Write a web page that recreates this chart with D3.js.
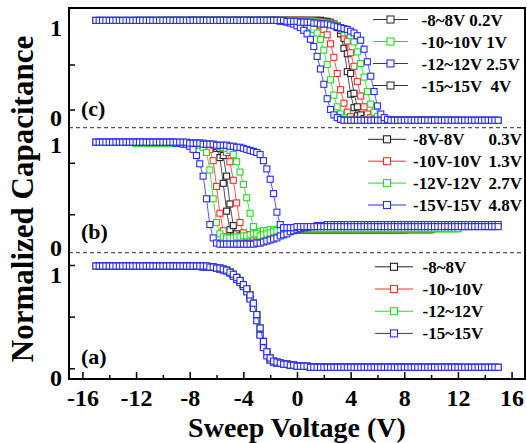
<!DOCTYPE html>
<html>
<head>
<meta charset="utf-8">
<script src="https://cdn.jsdelivr.net/npm/d3@7"></script>
<style>
  html, body { margin: 0; padding: 0; background: #fff; }
  svg { display: block; }
</style>
</head>
<body>
<div id="chart"></div>
<script>
// sweep ranges (V) of the four loops, black / red / green / blue
const sweepMax = [8, 10, 12, 15];
const sweepStep = 0.25;
const seriesColors = ["#222222", "#ff2a2a", "#22dd22", "#2a2aff"];

const xTicks = [-16, -12, -8, -4, 0, 4, 8, 12, 16];
const xMinorTicks = [-14, -10, -6, -2, 2, 6, 10, 14];

// normalized capacitance x100, one value per 0.25 V step from -Vmax to +Vmax
// panel (c)
const cBlackL = [
  99,99,99,99, 99,99,99,99, 99,99,99,99, 99,99,99,99,
  99,99,99,99, 99,99,99,99, 99,99,99,99, 99,99,99,99,
  99,99,99,99, 99,99,99,99, 98,97,96,94, 91,84,68,42,
  17,2,-7,-11, -12,-12,-12,-12, -12,-12,-12,-12, -12,-12,-12,-12,
  -12];
const cBlackR = [
  99,99,99,99, 99,99,99,99, 99,99,99,99, 99,99,99,99,
  99,99,99,99, 99,99,99,99, 99,99,99,99, 99,99,99,99,
  99,99,99,99, 99,99,99,99, 98,98,97,95, 93,88,79,62,
  40,18,3,-6, -10,-12,-12,-12, -12,-12,-12,-12, -12,-12,-12,-12,
  -12];
const cRedL = [
  99,99,99,99, 99,99,99,99, 99,99,99,99, 99,99,99,99,
  99,99,99,99, 99,99,99,99, 99,99,99,99, 99,99,99,99,
  99,99,99,99, 99,99,99,99, 99,99,98,98, 97,96,95,93,
  89,83,73,58, 40,22,7,-3, -8,-11,-12,-12, -12,-12,-12,-12,
  -12,-12,-12,-12, -12,-12,-12,-12, -12,-12,-12,-12, -12,-12,-12,-12,
  -12];
const cRedR = [
  99,99,99,99, 99,99,99,99, 99,99,99,99, 99,99,99,99,
  99,99,99,99, 99,99,99,99, 99,99,99,99, 99,99,99,99,
  99,99,99,99, 99,99,99,99, 99,99,99,99, 99,98,98,97,
  97,96,96,95, 93,90,85,76, 63,48,31,15, 3,-5,-9,-11,
  -12,-12,-12,-12, -12,-12,-12,-12, -12,-12,-12,-12, -12,-12,-12,-12,
  -12];
const cGreenL = [
  99,99,99,99, 99,99,99,99, 99,99,99,99, 99,99,99,99,
  99,99,99,99, 99,99,99,99, 99,99,99,99, 99,99,99,99,
  99,99,99,99, 99,99,99,99, 99,99,99,99, 99,98,98,98,
  97,96,95,94, 92,89,85,78, 66,50,33,16, 3,-5,-9,-11,
  -12,-12,-12,-12, -12,-12,-12,-12, -12,-12,-12,-12, -12,-12,-12,-12,
  -12,-12,-12,-12, -12,-12,-12,-12, -12,-12,-12,-12, -12,-12,-12,-12,
  -12];
const cGreenR = [
  99,99,99,99, 99,99,99,99, 99,99,99,99, 99,99,99,99,
  99,99,99,99, 99,99,99,99, 99,99,99,99, 99,99,99,99,
  99,99,99,99, 99,99,99,99, 99,99,99,99, 99,99,99,99,
  99,98,98,98, 98,98,97,97, 96,96,95,94, 93,91,89,86,
  82,75,64,51, 36,20,6,-3, -8,-11,-12,-12, -12,-12,-12,-12,
  -12,-12,-12,-12, -12,-12,-12,-12, -12,-12,-12,-12, -12,-12,-12,-12,
  -12];
const cBlueL = [
  99,99,99,99, 99,99,99,99, 99,99,99,99, 99,99,99,99,
  99,99,99,99, 99,99,99,99, 99,99,99,99, 99,99,99,99,
  99,99,99,99, 99,99,99,99, 99,99,99,99, 99,99,99,99,
  99,99,99,99, 99,99,99,98, 98,97,96,95, 93,91,88,84,
  78,70,59,45, 28,12,0,-6, -9,-11,-12,-12, -12,-12,-12,-12,
  -12,-12,-12,-12, -12,-12,-12,-12, -12,-12,-12,-12, -12,-12,-12,-12,
  -12,-12,-12,-12, -12,-12,-12,-12, -12,-12,-12,-12, -12,-12,-12,-12,
  -12,-12,-12,-12, -12,-12,-12,-12,
  -12];
const cBlueR = [
  99,99,99,99, 99,99,99,99, 99,99,99,99, 99,99,99,99,
  99,99,99,99, 99,99,99,99, 99,99,99,99, 99,99,99,99,
  99,99,99,99, 99,99,99,99, 99,99,99,99, 99,99,99,99,
  99,99,99,99, 99,99,99,99, 99,98,98,98, 98,97,97,97,
  97,96,96,95, 95,95,94,93, 92,91,90,89, 87,85,82,77,
  67,53,37,20, 4,-5,-9,-11, -12,-12,-12,-12, -12,-12,-12,-12,
  -12,-12,-12,-12, -12,-12,-12,-12, -12,-12,-12,-12, -12,-12,-12,-12,
  -12,-12,-12,-12, -12,-12,-12,-12,
  -12];

// panel (b)
const bBlackL = [
  94,94,93,93, 93,93,92,91, 89,80,55,28, 10,4,3,3,
  3,3,4,4, 5,5,6,6, 7,8,9,9, 10,10,10,10,
  10,10,10,10, 10,10,10,10, 10,10,10,10, 10,10,10,10,
  10,10,10,10, 10,10,10,10, 10,10,10,10, 10,10,10,10,
  10];
const bBlackR = [
  94,94,94,93, 93,93,92,92, 91,89,82,62, 35,14,6,4,
  4,4,5,5, 6,6,7,7, 8,9,9,10, 10,10,10,10,
  10,10,10,10, 10,10,10,10, 10,10,10,10, 10,10,10,10,
  10,10,10,10, 10,10,10,10, 10,10,10,10, 10,10,10,10,
  10];
const bRedL = [
  94,94,94,94, 94,94,94,94, 94,94,93,93, 92,91,88,77,
  52,26,9,3, 2,2,2,2, 3,3,4,4, 5,5,6,6,
  7,8,9,9, 10,10,10,10, 10,10,10,10, 10,10,10,10,
  10,10,10,10, 10,10,10,10, 10,10,10,10, 10,10,10,10,
  10,10,10,10, 10,10,10,10, 10,10,10,10, 10,10,10,10,
  10];
const bRedR = [
  94,94,94,94, 94,94,94,94, 94,94,94,94, 94,93,93,92,
  92,91,89,85, 76,58,36,17, 7,3,3,3, 4,5,6,6,
  7,8,9,9, 10,10,10,10, 10,10,10,10, 10,10,10,10,
  10,10,10,10, 10,10,10,10, 10,10,10,10, 10,10,10,10,
  10,10,10,10, 10,10,10,10, 10,10,10,10, 10,10,10,10,
  10];
const bGreenL = [
  94,94,94,94, 94,94,94,94, 94,94,94,94, 94,94,94,94,
  94,94,93,92, 90,85,68,40, 17,6,3,2, 2,2,3,3,
  4,4,5,6, 7,8,9,9, 10,10,10,10, 11,11,11,11,
  11,11,11,11, 11,11,11,11, 11,11,11,11, 11,11,11,11,
  11,11,11,11, 11,11,11,11, 11,11,11,11, 11,11,11,11,
  11,11,11,11, 11,11,11,11, 11,11,11,11, 11,11,11,11,
  11];
const bGreenR = [
  94,94,94,94, 94,94,94,94, 94,94,94,94, 94,94,94,94,
  94,94,94,94, 94,93,93,93, 92,91,90,89, 87,83,76,66,
  54,41,26,13, 6,4,5,6, 7,8,9,9, 10,10,11,11,
  11,11,11,11, 11,11,11,11, 11,11,11,11, 11,11,11,11,
  11,11,11,11, 11,11,11,11, 11,11,11,11, 11,11,11,11,
  11,11,11,11, 11,11,11,11, 11,11,11,11, 11,11,11,11,
  11];
const bBlueL = [
  95,95,95,95, 95,95,95,95, 95,95,95,95, 95,95,95,95,
  95,95,95,95, 95,95,95,95, 94,94,93,93, 91,88,82,74,
  62,40,15,2, -3,-4,-4,-4, -4,-4,-4,-4, -4,-4,-4,-4,
  -3,-3,-2,-1, 0,1,2,4, 5,6,8,9, 10,11,12,12,
  13,13,14,14, 14,15,15,15, 15,15,15,15, 15,15,15,15,
  15,15,15,15, 15,15,15,15, 15,15,15,15, 15,15,15,15,
  15,15,15,15, 15,15,15,15, 15,15,15,15, 15,15,15,15,
  15,15,15,15, 15,15,15,15,
  15];
const bBlueR = [
  95,95,95,95, 95,95,95,95, 95,95,95,95, 95,95,95,95,
  95,95,95,95, 95,95,95,95, 95,95,95,95, 94,94,94,94,
  93,93,93,93, 92,92,92,92, 91,91,90,90, 89,88,87,86,
  85,83,77,69, 59,45,27,15, 12,12,12,12, 13,13,13,13,
  13,13,13,13, 13,13,13,13, 13,13,13,13, 13,13,13,13,
  13,13,13,13, 13,13,13,13, 13,13,13,13, 13,13,13,13,
  13,13,13,13, 13,13,13,13, 13,13,13,13, 13,13,13,13,
  13,13,13,13, 13,13,13,13,
  13];

// panel (a)
const aBlackL = [
  99,99,99,99, 98,98,98,98, 97,96,96,95, 93,90,87,84,
  80,75,68,59, 47,33,21,13, 8,6,5,5, 4,4,3,3,
  2,2,2,2, 1,1,1,1, 1,1,1,1, 1,1,1,1,
  1,1,1,1, 1,1,1,1, 1,1,1,1, 1,1,1,1,
  1];
const aBlackR = [
  99,99,99,99, 99,99,98,98, 97,97,96,95, 93,91,88,85,
  81,77,71,63, 52,39,26,16, 10,7,6,5, 4,4,3,3,
  2,2,2,2, 1,1,1,1, 1,1,1,1, 1,1,1,1,
  1,1,1,1, 1,1,1,1, 1,1,1,1, 1,1,1,1,
  1];
const aRedL = [
  99,99,99,99, 99,99,99,99, 99,99,99,99, 98,98,98,98,
  97,96,96,95, 93,90,87,84, 80,75,68,59, 47,33,21,13,
  8,6,5,5, 4,4,3,3, 2,2,2,2, 1,1,1,1,
  1,1,1,1, 1,1,1,1, 1,1,1,1, 1,1,1,1,
  1,1,1,1, 1,1,1,1, 1,1,1,1, 1,1,1,1,
  1];
const aRedR = [
  99,99,99,99, 99,99,99,99, 99,99,99,99, 99,99,98,98,
  97,97,96,95, 93,91,88,85, 81,77,71,63, 52,39,26,16,
  10,7,6,5, 4,4,3,3, 2,2,2,2, 1,1,1,1,
  1,1,1,1, 1,1,1,1, 1,1,1,1, 1,1,1,1,
  1,1,1,1, 1,1,1,1, 1,1,1,1, 1,1,1,1,
  1];
const aGreenL = [
  99,99,99,99, 99,99,99,99, 99,99,99,99, 99,99,99,99,
  99,99,99,99, 98,98,98,98, 97,96,96,95, 93,90,87,84,
  80,75,68,59, 47,33,21,13, 8,6,5,5, 4,4,3,3,
  2,2,2,2, 1,1,1,1, 1,1,1,1, 1,1,1,1,
  1,1,1,1, 1,1,1,1, 1,1,1,1, 1,1,1,1,
  1,1,1,1, 1,1,1,1, 1,1,1,1, 1,1,1,1,
  1];
const aGreenR = [
  99,99,99,99, 99,99,99,99, 99,99,99,99, 99,99,99,99,
  99,99,99,99, 99,99,98,98, 97,97,96,95, 93,91,88,85,
  81,77,71,63, 52,39,26,16, 10,7,6,5, 4,4,3,3,
  2,2,2,2, 1,1,1,1, 1,1,1,1, 1,1,1,1,
  1,1,1,1, 1,1,1,1, 1,1,1,1, 1,1,1,1,
  1,1,1,1, 1,1,1,1, 1,1,1,1, 1,1,1,1,
  1];
const aBlueL = [
  99,99,99,99, 99,99,99,99, 99,99,99,99, 99,99,99,99,
  99,99,99,99, 99,99,99,99, 99,99,99,99, 99,99,99,99,
  98,98,98,98, 97,96,95,94, 92,89,86,83, 79,74,67,58,
  46,32,20,12, 8,6,5,5, 4,4,3,3, 2,2,2,2,
  1,1,1,1, 1,1,1,1, 1,1,1,1, 1,1,1,1,
  1,1,1,1, 1,1,1,1, 1,1,1,1, 1,1,1,1,
  1,1,1,1, 1,1,1,1, 1,1,1,1, 1,1,1,1,
  1,1,1,1, 1,1,1,1,
  1];
const aBlueR = [
  99,99,99,99, 99,99,99,99, 99,99,99,99, 99,99,99,99,
  99,99,99,99, 99,99,99,99, 99,99,99,99, 99,99,99,99,
  99,99,98,98, 97,97,96,95, 93,91,88,85, 81,77,71,63,
  52,39,26,16, 10,7,6,5, 4,4,3,3, 2,2,2,2,
  1,1,1,1, 1,1,1,1, 1,1,1,1, 1,1,1,1,
  1,1,1,1, 1,1,1,1, 1,1,1,1, 1,1,1,1,
  1,1,1,1, 1,1,1,1, 1,1,1,1, 1,1,1,1,
  1,1,1,1, 1,1,1,1,
  1];

// legends (as printed in the figure)
const legendC = ["-8~8V 0.2V", "-10~10V 1V", "-12~12V 2.5V", "-15~15V  4V"];
const legendCColors = ["#333333", "#22dd22", "#2a2aff", "#333333"];
const legendB = ["-8V-8V", "-10V-10V", "-12V-12V", "-15V-15V"];
const legendBShift = ["0.3V", "1.3V", "2.7V", "4.8V"];
const legendA = ["-8~8V", "-10~10V", "-12~12V", "-15~15V"];

const width = 527, height = 443;
const frame = { left: 69, right: 525, top: 8, bottom: 379 };
const serif = "'Liberation Serif', 'Times New Roman', serif";

const x = d3.scaleLinear().domain([-17, 17]).range([frame.left, frame.right]);

const panels = [
  {
    tag: "(c)", tagY: 116, labelShift: 8,
    y: d3.scaleLinear().domain([0, 1]).range([109.5, 19.5]),
    ticks: [0, 0.5],
    fwd: [cBlackL, cRedL, cGreenL, cBlueL],
    rev: [cBlackR, cRedR, cGreenR, cBlueR],
    legend: legendC, legendColors: legendCColors, shift: null,
    legY: 19.5, legDy: 22, line: [373, 408], mark: 390.5, textX: 421.5
  },
  {
    tag: "(b)", tagY: 239, labelShift: 7.5,
    y: d3.scaleLinear().domain([0, 1]).range([240, 137]),
    ticks: [0.25, 0.75],
    fwd: [bBlackL, bRedL, bGreenL, bBlueL],
    rev: [bBlackR, bRedR, bGreenR, bBlueR],
    legend: legendB, legendColors: seriesColors, shift: legendBShift,
    legY: 139.3, legDy: 21.9, line: [368, 406], mark: 387, textX: 413
  },
  {
    tag: "(a)", tagY: 364, labelShift: 10,
    y: d3.scaleLinear().domain([0, 1]).range([368.3, 265]),
    ticks: [0, 0.5, 1],
    fwd: [aBlackL, aRedL, aGreenL, aBlueL],
    rev: [aBlackR, aRedR, aGreenR, aBlueR],
    legend: legendA, legendColors: seriesColors, shift: null,
    legY: 266.8, legDy: 22.2, line: [375, 413], mark: 394, textX: 422.5
  }
];

const svg = d3.select("#chart").append("svg")
  .attr("width", width)
  .attr("height", height);

// dashed separators between the stacked panels
[127.7, 252.7].forEach(yy => {
  svg.append("line")
    .attr("x1", frame.left).attr("x2", frame.right)
    .attr("y1", yy).attr("y2", yy)
    .attr("stroke", "#555")
    .attr("stroke-width", 1.2)
    .attr("stroke-dasharray", "4,3");
});

const sweep = (vals, vmax) => vals.map((c, i) => ({ v: -vmax + i * sweepStep, c: c / 100 }));

const boldSerif = (sel, size) => sel
  .attr("font-family", serif)
  .attr("font-size", size)
  .attr("font-weight", "bold");

panels.forEach(p => {
  const g = svg.append("g");
  const line = d3.line().x(d => x(d.v)).y(d => p.y(d.c));

  sweepMax.forEach((vmax, k) => {
    const color = seriesColors[k];
    [p.fwd[k], p.rev[k]].forEach(vals => {
      const pts = sweep(vals, vmax);
      g.append("path")
        .datum(pts)
        .attr("d", line)
        .attr("fill", "none")
        .attr("stroke", color)
        .attr("stroke-width", 0.8);
      g.selectAll(null)
        .data(pts)
        .enter()
        .append("rect")
        .attr("x", d => x(d.v) - 3)
        .attr("y", d => p.y(d.c) - 3)
        .attr("width", 6)
        .attr("height", 6)
        .attr("fill", "#fff")
        .attr("stroke", color)
        .attr("stroke-width", 1.1);
    });
  });

  // y ticks (inward) and labels
  svg.append("g")
    .attr("transform", `translate(${frame.left},0)`)
    .call(d3.axisLeft(p.y).tickValues(p.ticks).tickSize(-6).tickFormat(""))
    .call(a => a.select(".domain").remove())
    .selectAll("line").attr("stroke-width", 1.5);

  svg.append("g")
    .attr("transform", `translate(${frame.left},0)`)
    .call(d3.axisLeft(p.y).tickValues([0, 1]).tickSize(0).tickPadding(7).tickFormat(d => String(d)))
    .call(a => a.select(".domain").remove())
    .call(a => boldSerif(a, 24))
    .selectAll("text").attr("y", p.labelShift).attr("fill", "#000");

  // panel tag
  svg.append("text")
    .attr("x", 81)
    .attr("y", p.tagY)
    .call(t => boldSerif(t, 22))
    .text(p.tag);

  // legend
  const leg = svg.append("g").call(l => boldSerif(l, 17));

  p.legend.forEach((label, i) => {
    const ly = p.legY + i * p.legDy;
    const col = p.legendColors[i];
    leg.append("line")
      .attr("x1", p.line[0]).attr("x2", p.line[1])
      .attr("y1", ly).attr("y2", ly)
      .attr("stroke", col)
      .attr("stroke-width", 1);
    leg.append("rect")
      .attr("x", p.mark - 3.5).attr("y", ly - 3.5)
      .attr("width", 7).attr("height", 7)
      .attr("fill", "#fff")
      .attr("stroke", col)
      .attr("stroke-width", 1.1);
    leg.append("text")
      .attr("x", p.textX)
      .attr("y", ly + 6)
      .style("white-space", "pre")
      .text(label);
    if (p.shift) {
      leg.append("text")
        .attr("x", 522)
        .attr("y", ly + 6)
        .attr("text-anchor", "end")
        .text(p.shift[i]);
    }
  });
});

// x axis: inward ticks and labels
const xAxisG = svg.append("g").attr("transform", `translate(0,${frame.bottom})`);
xAxisG.append("g")
  .call(d3.axisBottom(x).tickValues(xTicks).tickSize(-7).tickFormat(""))
  .call(a => a.select(".domain").remove())
  .selectAll("line").attr("stroke-width", 1.5);
xAxisG.append("g")
  .call(d3.axisBottom(x).tickValues(xMinorTicks).tickSize(-4).tickFormat(""))
  .call(a => a.select(".domain").remove())
  .selectAll("line").attr("stroke-width", 1.5);
xAxisG.append("g")
  .call(d3.axisBottom(x).tickValues(xTicks).tickSize(0).tickPadding(9.5).tickFormat(d => String(d)))
  .call(a => a.select(".domain").remove())
  .call(a => boldSerif(a, 24))
  .selectAll("text").attr("fill", "#000");

// frame
svg.append("rect")
  .attr("x", frame.left)
  .attr("y", frame.top)
  .attr("width", frame.right - frame.left)
  .attr("height", frame.bottom - frame.top)
  .attr("fill", "none")
  .attr("stroke", "#000")
  .attr("stroke-width", 2);

// axis titles
svg.append("text")
  .attr("x", (frame.left + frame.right) / 2)
  .attr("y", 437)
  .attr("text-anchor", "middle")
  .call(t => boldSerif(t, 28))
  .text("Sweep Voltage (V)");

svg.append("text")
  .attr("transform", "translate(33,199) rotate(-90)")
  .attr("text-anchor", "middle")
  .call(t => boldSerif(t, 31))
  .text("Normalized Capacitance");
</script>
</body>
</html>
